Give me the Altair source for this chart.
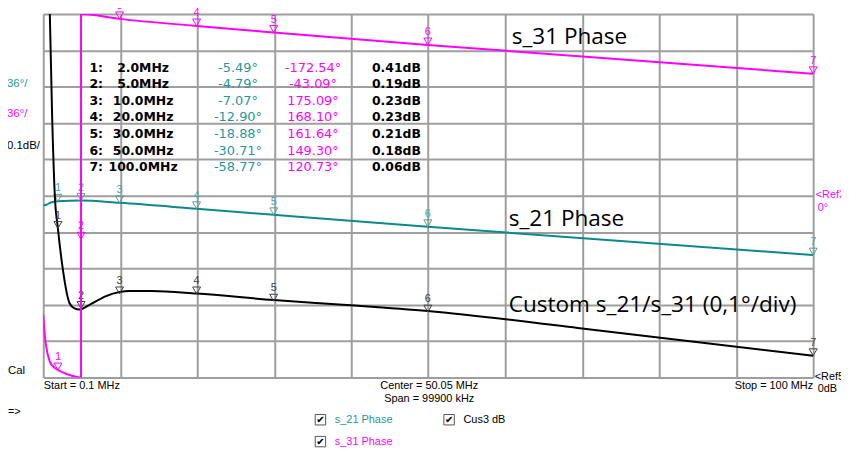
import altair as alt
import pandas as pd

marker_ids = [1, 2, 3, 4, 5, 6, 7]
marker_freq = [2.0, 5.0, 10.0, 20.0, 30.0, 50.0, 100.0]          # MHz
marker_s21 = [-5.49, -4.79, -7.07, -12.90, -18.88, -30.71, -58.77]  # deg
marker_s31 = [-172.54, -43.09, 175.09, 168.10, 161.64, 149.30, 120.73]  # deg
marker_cus = [0.41, 0.19, 0.23, 0.23, 0.21, 0.18, 0.06]            # dB

s21_freq = [0.1, 0.5, 1.0, 2.0, 5.0, 10.0, 20.0, 30.0, 50.0, 100.0]
s21_phase = [-9.5, -9.0, -7.0, -5.49, -4.79, -7.07, -12.90, -18.88, -30.71, -58.77]

s31_freq = [0.1, 0.25, 0.45, 0.94, 1.5, 2.0, 3.3, 4.5, 5.0, 5.0, 10.0, 20.0, 30.0, 50.0, 100.0]
s31_phase = [-118.0, -135.0, -148.0, -164.0, -170.0, -172.54, -177.0, -179.5, -180.0,
             180.0, 175.09, 168.10, 161.64, 149.30, 120.73]

cus_freq = [0.1, 0.5, 0.95, 1.25, 1.6, 2.0, 2.65, 3.5, 4.16, 4.8, 6.1, 8.25, 10.0,
            11.25, 14.2, 20.0, 30.0, 40.0, 50.0, 70.0, 100.0]
cus_db = [2.6, 1.5, 1.0, 0.72, 0.5, 0.41, 0.296, 0.205, 0.19, 0.187, 0.200, 0.224, 0.235,
          0.238, 0.238, 0.231, 0.213, 0.199, 0.183, 0.135, 0.06]

x_grid = [0.1, 10.09, 20.08, 30.07, 40.06, 50.05, 60.04, 70.03, 80.02, 90.01, 100.0]
y_grid = [0, 1, 2, 3, 4, 5, 6, 7, 8, 9, 10]

# ---------------- tables ----------------
rows = []
for name, fs, vs in [("s_21 Phase", s21_freq, s21_phase),
                     ("s_31 Phase", s31_freq, s31_phase),
                     ("Cus3 dB", cus_freq, cus_db)]:
    for i, (f, v) in enumerate(zip(fs, vs)):
        rows.append({"trace": name, "i": i, "freq": f, "value": v})
lines_df = pd.DataFrame(rows)

mrows = []
for name, vs in [("s_21 Phase", marker_s21), ("s_31 Phase", marker_s31), ("Cus3 dB", marker_cus)]:
    for mid, f, v in zip(marker_ids, marker_freq, vs):
        mrows.append({"trace": name, "id": str(mid), "freq": f, "value": v})
markers_df = pd.DataFrame(mrows)

table_df = pd.DataFrame({
    "id": marker_ids,
    "lab": [f"{m}:" for m in marker_ids],
    "f": [f"{f:.1f}MHz" for f in marker_freq],
    "s21": [f"{v:.2f}°" for v in marker_s21],
    "s31": [f"{v:.2f}°" for v in marker_s31],
    "cus": [f"{v:.2f}dB" for v in marker_cus],
})

# trace value -> screen divisions (36°/div ref 0° at div 5, 0.1 dB/div ref 0 dB at div 0)
DIV = "datum.trace == 'Cus3 dB' ? datum.value / 0.1 : 5 + datum.value / 36"

X0, Y0 = 43.5, 12.5   # page position of plot origin
W, H = 775, 366

xscale = alt.Scale(domain=[0.1, 100.0], nice=False, zero=False)
yscale = alt.Scale(domain=[0, 10], nice=False, zero=False)
xaxis = alt.Axis(values=x_grid, grid=True, labels=False, ticks=False, domain=False, title=None,
                 gridColor="#9e9e9e", gridWidth=2)
yaxis = alt.Axis(values=y_grid, grid=True, labels=False, ticks=False, domain=False, title=None,
                 gridColor="#9e9e9e", gridWidth=2)


def XE(field):
    return alt.X(f"{field}:Q", scale=xscale, axis=xaxis)


def YE(field):
    return alt.Y(f"{field}:Q", scale=yscale, axis=yaxis)


def trace_layers(name, line_color, tri_color, num_color):
    bl = alt.Chart(lines_df).transform_filter(alt.datum.trace == name).transform_calculate(div=DIV)
    line = bl.mark_line(color=line_color, strokeWidth=2, clip=True, interpolate="monotone").encode(
        x=XE("freq"), y=YE("div"), order=alt.Order("i:Q"))
    bm = alt.Chart(markers_df).transform_filter(alt.datum.trace == name).transform_calculate(div=DIV)
    tri = bm.mark_point(shape="triangle-down", filled=False, size=64, strokeWidth=1,
                        color=tri_color, opacity=1, yOffset=-3.5).encode(x=XE("freq"), y=YE("div"))
    num = bm.mark_text(font="Liberation Sans", fontSize=11, color=num_color, dy=-13).encode(
        x=XE("freq"), y=YE("div"), text="id:N")
    return [line, tri, num]


def label(text, px, py, color="black", align="left", size=11, font="Liberation Sans",
          weight="normal", baseline="middle"):
    return alt.Chart(pd.DataFrame({"t": [text]})).mark_text(
        align=align, baseline=baseline, font=font, fontSize=size, fontWeight=weight, color=color
    ).encode(x=alt.value(px - X0), y=alt.value(py - Y0), text="t:N")


def box(px, py):
    return alt.Chart(pd.DataFrame({"t": ["✔"]})).mark_point(
        shape="square", size=110, filled=False, color="#555555", strokeWidth=1, opacity=1
    ).encode(x=alt.value(px - X0), y=alt.value(py - Y0))


TEAL = "#0a8a8a"
TEAL_T = "#1f9898"
MAG = "#ff00ff"

layers = []
layers += trace_layers("s_21 Phase", TEAL, "#5f9a9a", "#4aa8a8")
layers += trace_layers("Cus3 dB", "#000000", "#404040", "#4a4040")
layers += trace_layers("s_31 Phase", MAG, MAG, MAG)

# marker table
tb = alt.Chart(table_df).transform_calculate(
    rdiv="(378.5 - (66.7 + 16.67 * (datum.id - 1))) / 36.6")
ycol = YE("rdiv")
layers.append(tb.mark_text(align="left", baseline="middle", font="DejaVu Sans", fontSize=12.5,
                           fontWeight="bold", color="black").encode(x=alt.value(90 - X0), y=ycol, text="lab:N"))
layers.append(tb.mark_text(align="center", baseline="middle", font="DejaVu Sans", fontSize=12.5,
                           fontWeight="bold", color="black").encode(x=alt.value(144 - X0), y=ycol, text="f:N"))
layers.append(tb.mark_text(align="center", baseline="middle", font="DejaVu Sans", fontSize=13,
                           color=TEAL_T).encode(x=alt.value(239.5 - X0), y=ycol, text="s21:N"))
layers.append(tb.mark_text(align="center", baseline="middle", font="DejaVu Sans", fontSize=13,
                           color=MAG).encode(x=alt.value(315 - X0), y=ycol, text="s31:N"))
layers.append(tb.mark_text(align="center", baseline="middle", font="DejaVu Sans", fontSize=12.5,
                           fontWeight="bold", color="black").encode(x=alt.value(399 - X0), y=ycol, text="cus:N"))

# scale labels left
layers.append(label("36°/", 7, 83, color=TEAL_T, size=11.5))
layers.append(label("36°/", 7, 113, color=MAG, size=11.5))
layers.append(label("0.1dB/", 7, 145, size=11.5))
layers.append(label("Cal", 8, 372, size=11.5))
layers.append(label("=>", 8, 413, size=11))

# reference labels right
layers.append(label("<Ref3", 821, 195, color=MAG, size=11))
layers.append(label("0°", 823, 208, color=MAG, size=11))
layers.append(label("<Ref5", 820, 378, size=11))
layers.append(label("0dB", 823, 390, size=11))

# sweep info
layers.append(label("Start = 0.1 MHz", 44, 387, size=11))
layers.append(label("Center = 50.05 MHz", 432, 387, align="center", size=11))
layers.append(label("Span = 99900 kHz", 432, 400, align="center", size=11))
layers.append(label("Stop = 100 MHz", 818.5, 387, align="right", size=11))

# trace annotations
layers.append(label("s_31 Phase", 515, 43, size=22.7, font="Open Sans", baseline="alphabetic"))
layers.append(label("s_21 Phase", 512, 226, size=22.7, font="Open Sans", baseline="alphabetic"))
layers.append(label("Custom s_21/s_31 (0,1°/div)", 512, 313, size=22.7, font="Open Sans",
                    baseline="alphabetic"))

# checkbox legend
for bx, by, txt, col in [(322.5, 421, "s_21 Phase", TEAL_T), (452, 421, "Cus3 dB", "black"),
                         (322.5, 443, "s_31 Phase", MAG)]:
    layers.append(box(bx, by))
    layers.append(label("✔", bx, by + 0.5, align="center", size=10, font="DejaVu Sans", weight="bold"))
    layers.append(label(txt, bx + 14.5, by, color=col, size=11))

chart = alt.layer(*layers).properties(
    width=W, height=H,
    padding={"left": X0 - 8, "top": Y0 - 8, "right": 28, "bottom": 72},
    autosize=alt.AutoSizeParams(type="none"),
    background="white",
).configure_view(stroke=None)

chart.save("out.html", embed_options={"renderer": "svg", "actions": False})
